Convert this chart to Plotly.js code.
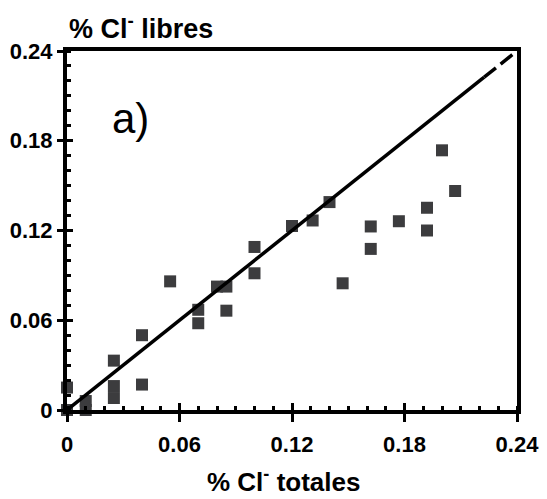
<!DOCTYPE html>
<html>
<head>
<meta charset="utf-8">
<script src="https://cdn.plot.ly/plotly-3.0.1.min.js"></script>
<style>html,body{margin:0;padding:0;background:#fff;}#chart{width:547px;height:499px;}</style>
</head>
<body>
<div id="chart"></div>
<script>
// Data
const totalCl = [0, 0, 0.01, 0.01, 0.025, 0.025, 0.025, 0.04, 0.04, 0.055, 0.07, 0.07, 0.08, 0.085, 0.085, 0.1, 0.1, 0.12, 0.131, 0.14, 0.147, 0.162, 0.162, 0.177, 0.192, 0.192, 0.2, 0.207];
const freeCl  = [0.015, 0, 0.006, 0, 0.033, 0.016, 0.008, 0.05, 0.017, 0.086, 0.067, 0.058, 0.0825, 0.0825, 0.0664, 0.109, 0.0914, 0.123, 0.1267, 0.139, 0.0847, 0.1227, 0.1077, 0.1262, 0.1352, 0.12, 0.1736, 0.1464];
const solidLineX = [0, 0.2225];
const solidLineY = [0, 0.2225];
const dashLineX = [0.2225, 0.24];
const dashLineY = [0.2225, 0.24];
const tickVals = [0, 0.06, 0.12, 0.18, 0.24];
const tickText = ['0', '0.06', '0.12', '0.18', '0.24'];

const FONT = 'Liberation Sans, Arial, Helvetica, sans-serif';
const markColor = '#3c3c3e';

const traces = [
  {x: totalCl, y: freeCl, type: 'scatter', mode: 'markers', cliponaxis: false,
   marker: {symbol: 'square', size: 12, color: markColor, line: {width: 0}}},
  {x: solidLineX, y: solidLineY, type: 'scatter', mode: 'lines', xaxis: 'x2', yaxis: 'y2',
   cliponaxis: false, line: {color: '#000', width: 3.5}},
  {x: dashLineX, y: dashLineY, type: 'scatter', mode: 'lines', xaxis: 'x2', yaxis: 'y2',
   cliponaxis: false, line: {color: '#000', width: 3.5, dash: '15px,6px'}}
];

const baseAxis = {
  range: [0, 0.24], showgrid: false, zeroline: false, fixedrange: true
};

const layout = {
  width: 547, height: 499,
  margin: {l: 67, r: 30, t: 51, b: 89, pad: 0},
  paper_bgcolor: '#fff', plot_bgcolor: '#fff',
  showlegend: false,
  font: {family: FONT, color: '#000'},
  xaxis: Object.assign({}, baseAxis, {
    showline: true, linecolor: '#000', linewidth: 4, mirror: true,
    tickmode: 'array', tickvals: tickVals, ticktext: tickText,
    ticks: 'outside', ticklen: 8, tickwidth: 3, tickcolor: '#000',
    ticklabelstandoff: 4,
    tickfont: {family: FONT, size: 22, weight: 'bold', color: '#000'},
    minor: {dtick: 0.01, ticks: 'inside', ticklen: 4, tickwidth: 3, tickcolor: '#000', showgrid: false}
  }),
  yaxis: Object.assign({}, baseAxis, {
    showline: true, linecolor: '#000', linewidth: 4, mirror: true,
    tickmode: 'array', tickvals: tickVals, ticktext: tickText,
    ticks: 'outside', ticklen: 6, tickwidth: 3, tickcolor: '#000',
    tickfont: {family: FONT, size: 22, weight: 'bold', color: '#000'},
    minor: {dtick: 0.01, ticks: 'inside', ticklen: 4, tickwidth: 3, tickcolor: '#000', showgrid: false}
  }),
  xaxis2: Object.assign({}, baseAxis, {
    overlaying: 'x', anchor: 'y2', side: 'bottom', showline: false,
    tickmode: 'array', tickvals: tickVals, showticklabels: false,
    ticks: 'inside', ticklen: 7, tickwidth: 3, tickcolor: '#000'
  }),
  yaxis2: Object.assign({}, baseAxis, {
    overlaying: 'y', anchor: 'x2', side: 'left', showline: false,
    tickmode: 'array', tickvals: tickVals, showticklabels: false,
    ticks: 'inside', ticklen: 6, tickwidth: 3, tickcolor: '#000'
  }),
  annotations: [
    {text: '% Cl<sup>-</sup> libres', xref: 'paper', yref: 'paper', x: 0.0, y: 1.066,
     xanchor: 'left', yanchor: 'middle', showarrow: false,
     font: {family: FONT, size: 27, weight: 'bold', color: '#000'}},
    {text: '% Cl<sup>-</sup> totales', xref: 'paper', yref: 'paper', x: 0.48, y: -0.2458,
     xanchor: 'center', yanchor: 'bottom', showarrow: false, borderpad: 0,
     font: {family: FONT, size: 26, weight: 'bold', color: '#000'}},
    {text: 'a)', xref: 'x', yref: 'y', x: 0.034, y: 0.195,
     xanchor: 'center', yanchor: 'middle', showarrow: false,
     font: {family: FONT, size: 42, color: '#000'}}
  ]
};

Plotly.newPlot('chart', traces, layout, {displayModeBar: false, staticPlot: true});
</script>
</body>
</html>
